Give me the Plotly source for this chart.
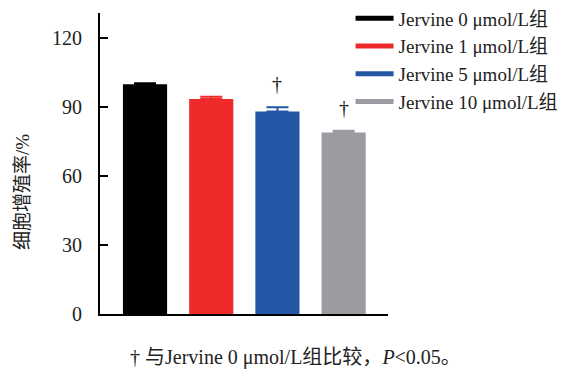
import plotly.graph_objects as go

categories = ["Jervine 0 μmol/L组", "Jervine 1 μmol/L组", "Jervine 5 μmol/L组", "Jervine 10 μmol/L组"]
values = [100.0, 93.6, 88.1, 79.0]
errors_up = [0.4, 1.0, 1.9, 0.7]
significant = [False, False, True, True]
colors = ["#000000", "#EE2A2A", "#2356A4", "#9A9CA1"]
y_ticks = [0, 30, 60, 90, 120]

serif = "'Liberation Serif', 'Times New Roman', 'Noto Sans CJK SC', serif"

fig = go.Figure()
for i, (cat, v, e, c) in enumerate(zip(categories, values, errors_up, colors)):
    fig.add_trace(go.Bar(
        x=[i], y=[v], width=0.667, marker=dict(color=c, line=dict(width=0)),
        error_y=dict(type="data", array=[e], arrayminus=[0], symmetric=False,
                     color=c, thickness=2, width=11),
        showlegend=False, name=cat,
    ))
for cat, c in zip(categories, colors):
    fig.add_trace(go.Scatter(x=[None], y=[None], mode="lines", name=cat,
                             line=dict(color=c, width=5)))

for i, (v, e, s) in enumerate(zip(values, errors_up, significant)):
    if s:
        fig.add_annotation(x=i, y=v + e, text="†", showarrow=False,
                           yanchor="bottom", yshift=10,
                           font=dict(family=serif, size=20, color="#222"))

fig.add_annotation(xref="paper", yref="paper", x=0.68, y=-0.143, xanchor="center", yanchor="middle",
                   text="† 与Jervine 0 μmol/L组比较，<i>P</i><0.05。", showarrow=False,
                   font=dict(family=serif, size=20, color="#222"))

fig.add_annotation(xref="paper", yref="paper", x=-0.271, y=0.405, xanchor="center", yanchor="middle",
                   text="细胞增殖率/%", textangle=-90, showarrow=False,
                   font=dict(family=serif, size=19, color="#222"))

fig.update_layout(
    width=571, height=372,
    margin=dict(l=100, r=183, t=13, b=58, autoexpand=False),
    paper_bgcolor="white", plot_bgcolor="white",
    barmode="overlay",
    font=dict(family=serif, color="#222"),
    xaxis=dict(range=[-0.68, 3.67], showticklabels=False, ticks="", showgrid=False,
               zeroline=False, showline=True, linecolor="black", linewidth=2),
    yaxis=dict(range=[0, 131], tickvals=y_ticks, ticks="inside", ticklen=8, tickwidth=2,
               tickcolor="black", showgrid=False, zeroline=False, showline=True,
               linecolor="black", linewidth=2, ticklabelstandoff=12,
               tickfont=dict(size=20, family=serif, color="#222")),
    legend=dict(x=0.87, y=1.045, xanchor="left", yanchor="top", bgcolor="rgba(0,0,0,0)",
                font=dict(size=19, family=serif, color="#222"), tracegroupgap=0,
                itemwidth=38),
)

fig.write_html("out.html", config={"displayModeBar": False})

with open("out.html", "r", encoding="utf-8") as f:
    html = f.read()
html = html.replace("<head>", "<head><style>html,body{margin:0;padding:0;overflow:hidden;}</style>", 1)
with open("out.html", "w", encoding="utf-8") as f:
    f.write(html)
